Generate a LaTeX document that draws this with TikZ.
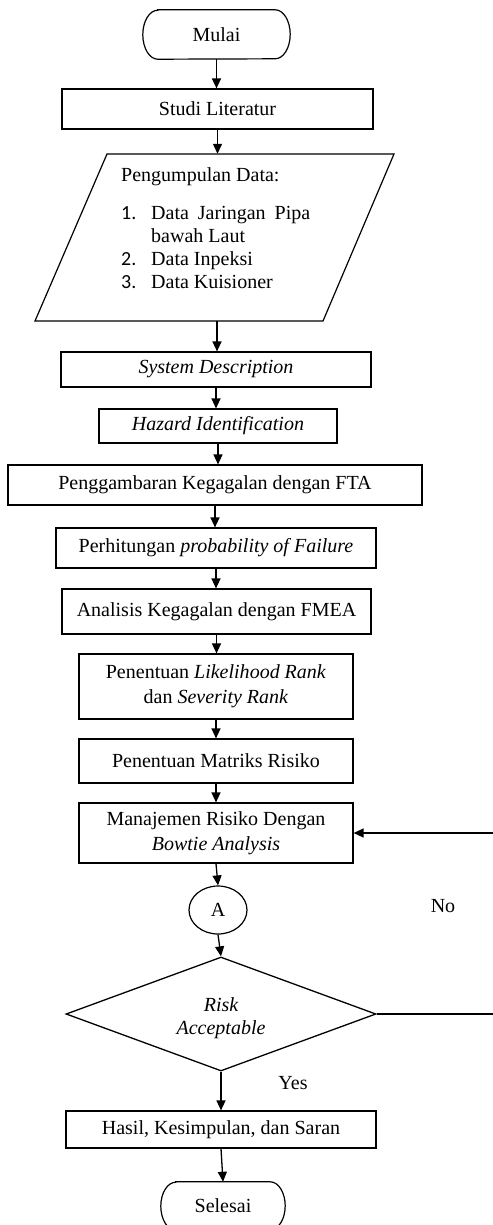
\documentclass[tikz,border=0pt]{standalone}
\usepackage{fontspec}
\setmainfont{Liberation Serif}
\newfontfamily\numfont{Carlito}
\usetikzlibrary{arrows.meta,shapes.geometric}
\begin{document}
\begin{tikzpicture}[x=1bp,y=-1bp,
  every node/.style={font=\fontsize{20bp}{25bp}\selectfont, inner sep=0pt},
  box/.style={draw, line width=1.2bp, rectangle, align=center},
  termtext/.style={rectangle},
  outline/.style={line width=1.2bp},
  flow/.style={-{Triangle[length=10bp,width=9bp]}, line width=1.3bp},
  plain/.style={line width=1.3bp}]
\clip (0,0) rectangle (493,1225);
\fill[white] (0,0) rectangle (493,1225);

% start terminal (sides are flat elliptical arcs)
\node[termtext, minimum width=147bp, minimum height=49bp] (mulai) at (216.5,34.5) {Mulai};
\draw[outline] ([xshift=15bp]mulai.north west) -- ([xshift=-15bp]mulai.north east)
  arc[start angle=90, end angle=-90, x radius=15bp, y radius=24.5bp]
  -- ([xshift=15bp]mulai.south west)
  arc[start angle=270, end angle=90, x radius=15bp, y radius=24.5bp] -- cycle;

\node[box, minimum width=311bp, minimum height=40bp] (studi) at (217.5,109) {Studi Literatur};

% data collection (parallelogram)
\coordinate (p1) at (107,154);
\coordinate (p2) at (394,154);
\coordinate (p3) at (323,321);
\coordinate (p4) at (35,321);
\draw[outline] (p1) -- (p2) -- (p3) -- (p4) -- cycle;
\node[minimum width=200bp, minimum height=167bp] (data) at (217,237.5) {};
\node[anchor=base west] (t0) at (121,181) {Pengumpulan Data:};
\node[anchor=base west] (n1) at (121,219) {\numfont 1.};
\node[anchor=base west] (t1) at (151,219) {\makebox[159bp][s]{Data Jaringan Pipa}};
\node[anchor=base west] (t1b) at (151,242) {bawah Laut};
\node[anchor=base west] (n2) at (121,265) {\numfont 2.};
\node[anchor=base west] (t2) at (151,265) {Data Inpeksi};
\node[anchor=base west] (n3) at (121,288) {\numfont 3.};
\node[anchor=base west] (t3) at (151,288) {Data Kuisioner};

% process steps
\node[box, minimum width=310bp, minimum height=35bp] (sys) at (216,369.5) {\textit{System Description}};
\node[box, minimum width=238bp, minimum height=34bp] (haz) at (218,426) {\textit{Hazard Identification}};
\node[box, minimum width=414bp, minimum height=40bp] (fta) at (215,485) {Penggambaran Kegagalan dengan FTA};
\node[box, minimum width=320bp, minimum height=40bp] (prob) at (216,548) {Perhitungan \textit{probability of Failure}};
\node[box, minimum width=309bp, minimum height=45bp] (fmea) at (216.5,611.5) {Analisis Kegagalan dengan FMEA};
\node[box, minimum width=274bp, minimum height=65bp] (rank) at (216,686.5) {Penentuan \textit{Likelihood Rank}\\dan \textit{Severity Rank}};
\node[box, minimum width=274bp, minimum height=44bp] (matr) at (216,761) {Penentuan Matriks Risiko};
\node[box, minimum width=274bp, minimum height=60bp] (mana) at (216,833) {Manajemen Risiko Dengan\\\textit{Bowtie Analysis}};

% connector and decision
\node[draw, ellipse, line width=1.2bp, minimum width=58bp, minimum height=48bp] (a) at (218,910) {A};
\node[draw, diamond, line width=1.3bp, minimum width=310bp, minimum height=114bp] (dia) at (221,1014) {};
\node[align=center, font=\fontsize{20bp}{23bp}\selectfont\itshape] (risk) at (221,1018) {Risk\\Acceptable};

% final steps
\node[box, minimum width=310bp, minimum height=37bp] (hasil) at (221,1129.5) {Hasil, Kesimpulan, dan Saran};
\node[termtext, minimum width=124bp, minimum height=48bp] (sel) at (223,1206) {Selesai};
\draw[outline] ([xshift=15bp]sel.north west) -- ([xshift=-15bp]sel.north east)
  arc[start angle=90, end angle=-90, x radius=15bp, y radius=24bp]
  -- ([xshift=15bp]sel.south west)
  arc[start angle=270, end angle=90, x radius=15bp, y radius=24bp] -- cycle;

% labels
\node (no) at (443,906) {No};
\node (yes) at (293,1083) {Yes};

% main flow
\draw[flow] (mulai.south) -- (mulai.south |- studi.north);
\draw[flow] (studi.south) -- (studi.south |- data.north);
\draw[flow] (data.south) -- (data.south |- sys.north);
\draw[flow] (sys.south) -- (sys.south |- haz.north);
\draw[flow] (haz.south) -- (haz.south |- fta.north);
\draw[flow] (fta.south) -- (fta.south |- prob.north);
\draw[flow] (prob.south) -- (prob.south |- fmea.north);
\draw[flow] (fmea.south) -- (fmea.south |- rank.north);
\draw[flow] (rank.south) -- (rank.south |- matr.north);
\draw[flow] (matr.south) -- (matr.south |- mana.north);
\draw[flow] (mana.south) -- (a.north);
\draw[flow] (a.south) -- (dia.north);
\draw[flow] (dia.south) -- (hasil.north);
\draw[flow] (hasil.south) -- (sel.north);

% loop back when the risk is not acceptable
\coordinate (c1) at (497,1014);
\coordinate (c2) at (497,833);
\draw[plain] (dia.east) -- (c1) -- (c2);
\draw[flow] (c2) -- (mana.east);
\end{tikzpicture}
\end{document}
